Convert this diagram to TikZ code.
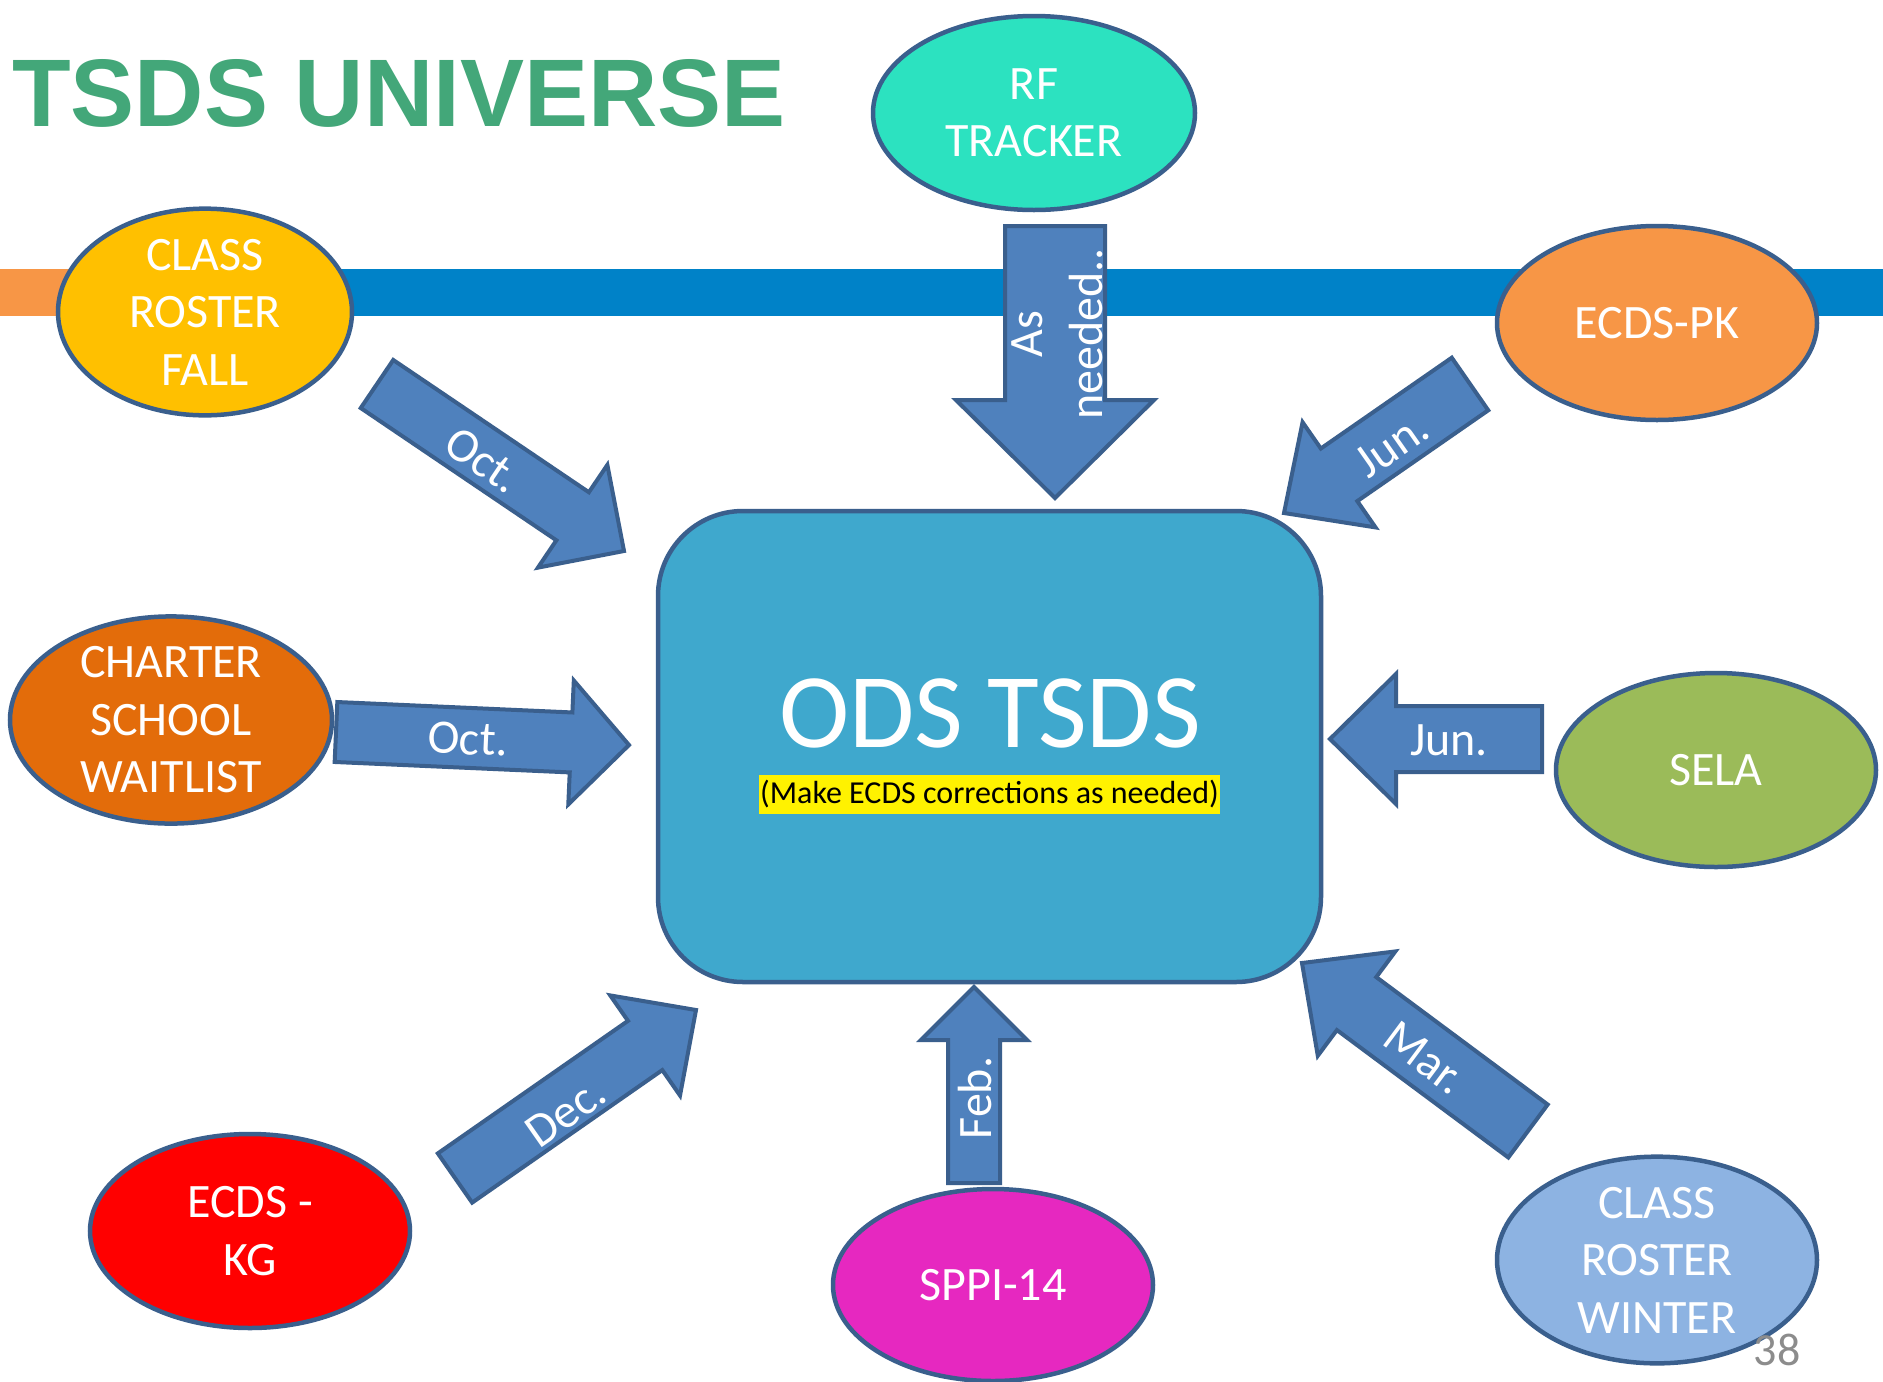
\documentclass[tikz,border=0pt]{standalone}
\usepackage{fontspec}
\setmainfont{Carlito}
\newfontfamily\titlefont{Liberation Sans}
\usetikzlibrary{shapes.geometric,calc}
\definecolor{edge}{HTML}{3A5F8D}
\definecolor{arrowfill}{HTML}{4F81BD}
\definecolor{odsfill}{HTML}{3FA8CD}
\definecolor{bandblue}{HTML}{0082C8}
\definecolor{stub}{HTML}{F79646}
\definecolor{titlegreen}{HTML}{43A779}
\definecolor{crfcol}{HTML}{FFC000}
\definecolor{rfcol}{HTML}{2CE2C0}
\definecolor{pkcol}{HTML}{F79646}
\definecolor{chcol}{HTML}{E36C0A}
\definecolor{selacol}{HTML}{9BBB59}
\definecolor{kgcol}{HTML}{FF0000}
\definecolor{sppicol}{HTML}{E628C0}
\definecolor{crwcol}{HTML}{8DB3E2}
\definecolor{pagegray}{HTML}{8C8C8C}
\tikzset{
  src/.style={ellipse, draw=edge, line width=4.5pt, inner sep=0pt, text=white, align=center,
    font=\fontsize{48}{57.5}\selectfont},
  barr/.style={fill=arrowfill, draw=edge, line width=4pt, line join=miter},
  alab/.style={text=white, font=\fontsize{48}{60}\selectfont, inner sep=0pt, align=center},
}
% #1 tail, #2 tip, #3 half shaft width, #4 half head width, #5 head length
\newcommand{\blockarrow}[5]{%
  \coordinate (hb) at ($(#2)!#5!(#1)$);
  \draw[barr] ($(#1)!#3!90:(#2)$) -- ($(hb)!#3!90:(#2)$) -- ($(hb)!#4!90:(#2)$) -- (#2)
    -- ($(hb)!#4!-90:(#2)$) -- ($(hb)!#3!-90:(#2)$) -- ($(#1)!#3!-90:(#2)$) -- cycle;
}
\begin{document}
\begin{tikzpicture}[x=1pt,y=-1pt]
\useasboundingbox (0,0) rectangle (1883,1382);
\fill[white] (0,0) rectangle (1883,1382);
% band
\fill[stub] (0,269) rectangle (120,316);
\fill[bandblue] (120,269) rectangle (1883,316);
% title
\node[anchor=base west, inner sep=0pt, text=titlegreen, font=\titlefont\bfseries\fontsize{96}{96}\selectfont] (title) at (12,126) {TSDS UNIVERSE};
% central box
\node[draw=edge, fill=odsfill, line width=4.5pt, rounded corners=85pt, minimum width=663pt, minimum height=471pt, inner sep=0pt] (ods) at (989.5,746.5) {};
\node[text=white, inner sep=0pt, font=\fontsize{106}{106}\selectfont] (odstitle) at (990,713) {ODS TSDS};
\node[fill=yellow, text=black, inner xsep=1pt, inner ysep=0pt, minimum height=39pt, font=\fontsize{32}{32}\selectfont] (odsnote) at (989.5,794) {(Make ECDS corrections as needed)};
% arrow end points
\coordinate (t1) at (377,384);  \coordinate (p1) at (624,551);
\coordinate (t2) at (455,1178); \coordinate (p2) at (696,1010);
\coordinate (t3) at (974,1183); \coordinate (p3) at (974,987);
\coordinate (t4) at (1528,1131);\coordinate (p4) at (1302,963);
\coordinate (t5) at (1470,384); \coordinate (p5) at (1284,513);
\coordinate (t6) at (1542,739); \coordinate (p6) at (1330,739);
\coordinate (t7) at (336,732);  \coordinate (p7) at (629,745);
\coordinate (t8) at (1055,226); \coordinate (p8) at (1055,498);
\blockarrow{t1}{p1}{29pt}{62pt}{62pt}
\blockarrow{t2}{p2}{30pt}{61pt}{62pt}
\blockarrow{t3}{p3}{26pt}{53pt}{53pt}
\blockarrow{t4}{p4}{33pt}{65pt}{68pt}
\blockarrow{t5}{p5}{32pt}{64pt}{67pt}
\blockarrow{t6}{p6}{33pt}{65pt}{66pt}
\blockarrow{t7}{p7}{30pt}{62pt}{58pt}
\blockarrow{t8}{p8}{50pt}{99pt}{98pt}
% arrow labels
\node[alab, rotate=-34] (l1) at (483,460) {Oct.};
\node[alab, rotate=35] (l2) at (566,1112) {Dec.};
\node[alab, rotate=90] (l3) at (975,1098) {Feb.};
\node[alab, rotate=-36.7] (l4) at (1425,1058) {Mar.};
\node[alab, rotate=35] (l5) at (1392,445) {Jun.};
\node[alab] (l6) at (1449,740) {Jun.};
\node[alab, rotate=-2.5] (l7) at (468,739) {Oct.};
\node[alab, rotate=90] (l8) at (1057,334) {As\\needed..};
% source ellipses
\node[src, fill=crfcol, minimum width=294pt, minimum height=192pt] (crf) at (205,312) {CLASS\\ROSTER\\FALL};
\node[src, fill=rfcol, minimum width=322pt, minimum height=194pt] (rf) at (1034,113) {RF\\TRACKER};
\node[src, fill=pkcol, minimum width=320pt, minimum height=194pt] (pk) at (1657,323) {ECDS-PK};
\node[src, fill=chcol, minimum width=322pt, minimum height=194pt] (ch) at (171,720) {CHARTER\\SCHOOL\\WAITLIST};
\node[src, fill=selacol, minimum width=320pt, minimum height=194pt] (sela) at (1716,770) {SELA};
\node[src, fill=kgcol, minimum width=320pt, minimum height=194pt] (kg) at (250,1231) {ECDS -\\KG};
\node[src, fill=sppicol, minimum width=320pt, minimum height=192pt] (sppi) at (993,1285) {SPPI-14};
\node[src, fill=crwcol, minimum width=320pt, minimum height=194pt] (crw) at (1657,1260) {CLASS\\ROSTER\\WINTER};
% page number
\node[text=pagegray, inner sep=0pt, font=\fontsize{46}{46}\selectfont] (pg) at (1777,1350) {38};
\end{tikzpicture}
\end{document}
